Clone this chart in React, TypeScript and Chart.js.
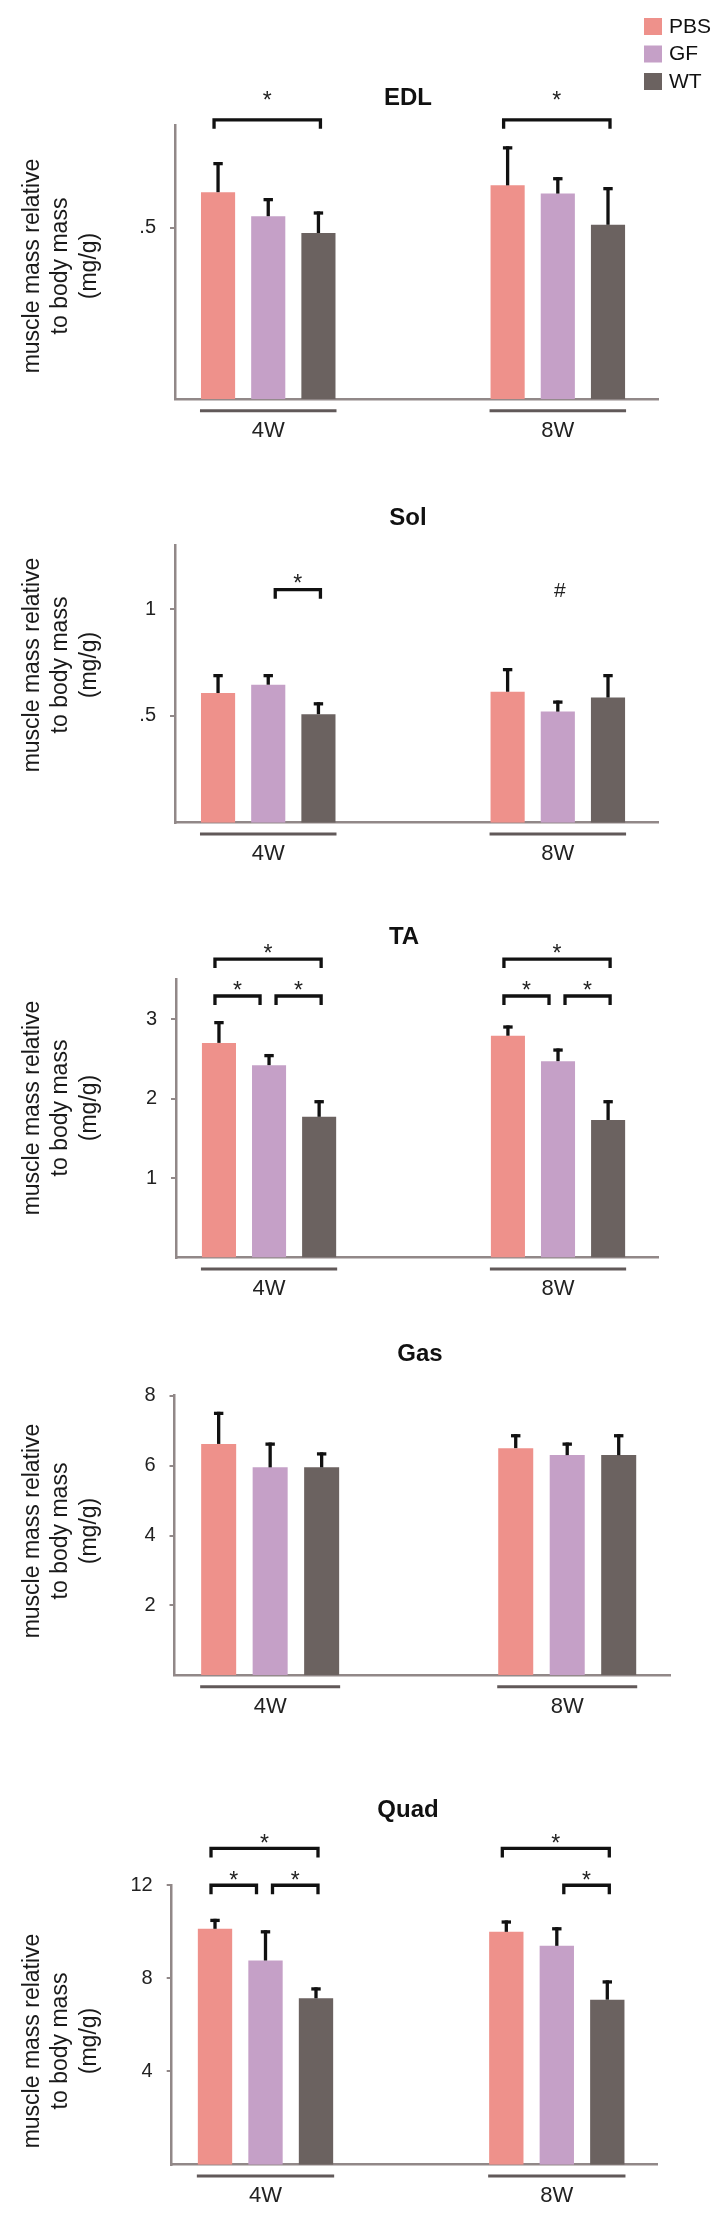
import React, { useEffect, useRef } from "react";
import { Chart, registerables } from "chart.js";
Chart.register(...registerables);

// ---------- data ----------
const groupLabels = ["4W", "8W"];
const groupPositions = [0, 1];
const seriesLabels = ["PBS", "GF", "WT"];
const seriesColors = ["#ee918b", "#c5a0c7", "#6b6260"];

// EDL
const edlPBS = [0.604, 0.624];
const edlPBSErr = [0.088, 0.114];
const edlGF = [0.534, 0.6];
const edlGFErr = [0.053, 0.048];
const edlWT = [0.485, 0.509];
const edlWTErr = [0.063, 0.11];
const edlTicks = [0.5];
const edlTickLabels = [".5"];

// Sol
const solPBS = [0.607, 0.613];
const solPBSErr = [0.089, 0.111];
const solGF = [0.646, 0.52];
const solGFErr = [0.05, 0.052];
const solWT = [0.508, 0.586];
const solWTErr = [0.056, 0.11];
const solTicks = [0.5, 1];
const solTickLabels = [".5", "1"];

// TA
const taPBS = [2.7, 2.79];
const taPBSErr = [0.275, 0.13];
const taGF = [2.42, 2.47];
const taGFErr = [0.14, 0.16];
const taWT = [1.77, 1.73];
const taWTErr = [0.21, 0.25];
const taTicks = [1, 2, 3];
const taTickLabels = ["1", "2", "3"];

// Gas
const gasPBS = [6.62, 6.5];
const gasPBSErr = [0.92, 0.4];
const gasGF = [5.95, 6.3];
const gasGFErr = [0.71, 0.36];
const gasWT = [5.95, 6.3];
const gasWTErr = [0.43, 0.6];
const gasTicks = [2, 4, 6, 8];
const gasTickLabels = ["2", "4", "6", "8"];

// Quad
const quadPBS = [10.12, 9.99];
const quadPBSErr = [0.43, 0.49];
const quadGF = [8.76, 9.39];
const quadGFErr = [1.3, 0.8];
const quadWT = [7.14, 7.08];
const quadWTErr = [0.47, 0.83];
const quadTicks = [4, 8, 12];
const quadTickLabels = ["4", "8", "12"];

// significance annotations (group index, series from/to, level in data units)
const edlBrackets = [
  { group: 0, from: 0, to: 2, level: 0.815, text: "*" },
  { group: 1, from: 0, to: 2, level: 0.815, text: "*" },
];
const solBrackets = [{ group: 0, from: 1, to: 2, level: 1.091, text: "*" }];
const solMarks = [{ group: 1, level: 1.083, text: "#" }];
const taBrackets = [
  { group: 0, from: 0, to: 2, level: 3.754, text: "*" },
  { group: 0, from: 0, to: 1, level: 3.29, text: "*" },
  { group: 0, from: 1, to: 2, level: 3.29, text: "*" },
  { group: 1, from: 0, to: 2, level: 3.754, text: "*" },
  { group: 1, from: 0, to: 1, level: 3.29, text: "*" },
  { group: 1, from: 1, to: 2, level: 3.29, text: "*" },
];
const quadBrackets = [
  { group: 0, from: 0, to: 2, level: 13.57, text: "*" },
  { group: 0, from: 0, to: 1, level: 11.99, text: "*" },
  { group: 0, from: 1, to: 2, level: 11.99, text: "*" },
  { group: 1, from: 0, to: 2, level: 13.57, text: "*" },
  { group: 1, from: 1, to: 2, level: 11.99, text: "*" },
];

const yTitleLines = ["muscle mass relative", "to body mass", "(mg/g)"];

// ---------- layout ----------
const FONT = '"Liberation Sans", Arial, sans-serif';
const AXIS_COLOR = "#918888";
const UNDERLINE_COLOR = "#615959";

const panels = [
  {
    name: "EDL", top: 0, height: 440,
    means: [edlPBS, edlGF, edlWT], errs: [edlPBSErr, edlGFErr, edlWTErr],
    yMax: 0.8, ticks: edlTicks, tickLabels: edlTickLabels,
    brackets: edlBrackets, marks: [] as any[], legend: true,
    box: { left: 175, top: 125, bottom: 399.3, right: 658 },
    titlePos: [408, 98], yTitleY: 266, starGap: 25,
  },
  {
    name: "Sol", top: 440, height: 440,
    means: [solPBS, solGF, solWT], errs: [solPBSErr, solGFErr, solWTErr],
    yMax: 1.3, ticks: solTicks, tickLabels: solTickLabels,
    brackets: solBrackets, marks: solMarks, legend: false,
    box: { left: 175, top: 105, bottom: 382.7, right: 658 },
    titlePos: [408, 78], yTitleY: 225, starGap: 12,
  },
  {
    name: "TA", top: 880, height: 440,
    means: [taPBS, taGF, taWT], errs: [taPBSErr, taGFErr, taWTErr],
    yMax: 3.5, ticks: taTicks, tickLabels: taTickLabels,
    brackets: taBrackets, marks: [] as any[], legend: false,
    box: { left: 176, top: 99.3, bottom: 377.5, right: 658 },
    titlePos: [404, 57.5], yTitleY: 228, starGap: 11,
  },
  {
    name: "Gas", top: 1320, height: 440,
    means: [gasPBS, gasGF, gasWT], errs: [gasPBSErr, gasGFErr, gasWTErr],
    yMax: 8, ticks: gasTicks, tickLabels: gasTickLabels,
    brackets: [] as any[], marks: [] as any[], legend: false,
    box: { left: 174.5, top: 75.7, bottom: 355.3, right: 670 },
    titlePos: [420, 34.3], yTitleY: 211, starGap: 11,
  },
  {
    name: "Quad", top: 1760, height: 463,
    means: [quadPBS, quadGF, quadWT], errs: [quadPBSErr, quadGFErr, quadWTErr],
    yMax: 12, ticks: quadTicks, tickLabels: quadTickLabels,
    brackets: quadBrackets, marks: [] as any[], legend: false,
    box: { left: 171.7, top: 125, bottom: 404.7, right: 657.6 },
    titlePos: [408, 50], yTitleY: 281, starGap: 10.5,
  },
];

function makePlugin(panel: any) {
  return {
    id: "annot_" + panel.name,
    afterDraw(chart: any) {
      const ctx = chart.ctx as CanvasRenderingContext2D;
      const yScale = chart.scales.y;
      const metas = seriesLabels.map((_, i) => chart.getDatasetMeta(i));
      ctx.save();

      // error bars
      ctx.strokeStyle = "#111";
      ctx.lineWidth = 3.3;
      ctx.lineCap = "butt";
      metas.forEach((meta: any, di: number) => {
        meta.data.forEach((el: any, j: number) => {
          const yTop = yScale.getPixelForValue(panel.means[di][j] + panel.errs[di][j]);
          ctx.beginPath();
          ctx.moveTo(el.x, el.y);
          ctx.lineTo(el.x, yTop);
          ctx.stroke();
          ctx.beginPath();
          ctx.moveTo(el.x - 4.7, yTop + 1.6);
          ctx.lineTo(el.x + 4.7, yTop + 1.6);
          ctx.stroke();
        });
      });

      // group underlines
      ctx.strokeStyle = UNDERLINE_COLOR;
      ctx.lineWidth = 3;
      groupLabels.forEach((_, g) => {
        const first = metas[0].data[g];
        const last = metas[2].data[g];
        const yU = chart.chartArea.bottom + 11.4;
        ctx.beginPath();
        ctx.moveTo(first.x - first.width / 2 - 1, yU);
        ctx.lineTo(last.x + last.width / 2 + 1, yU);
        ctx.stroke();
      });

      // brackets
      ctx.strokeStyle = "#111";
      ctx.fillStyle = "#222";
      ctx.lineWidth = 3.3;
      ctx.lineJoin = "miter";
      panel.brackets.forEach((b: any) => {
        const c1 = metas[b.from].data[b.group].x;
        const c2 = metas[b.to].data[b.group].x;
        const x1 = c1 - 4 + (b.from === 1 ? 11 : 0);
        const x2 = c2 + 2 - (b.to === 1 ? 11 : 0);
        const yb = yScale.getPixelForValue(b.level);
        ctx.beginPath();
        ctx.moveTo(x1, yb + 9);
        ctx.lineTo(x1, yb);
        ctx.lineTo(x2, yb);
        ctx.lineTo(x2, yb + 9);
        ctx.stroke();
        ctx.font = `23px ${FONT}`;
        ctx.textAlign = "center";
        ctx.textBaseline = "alphabetic";
        ctx.fillText(b.text, (x1 + x2) / 2, yb - panel.starGap + 23 * 0.58);
      });
      panel.marks.forEach((m: any) => {
        const cx = metas[1].data[m.group].x;
        ctx.font = `21px ${FONT}`;
        ctx.textAlign = "center";
        ctx.textBaseline = "middle";
        ctx.fillText(m.text, cx + 2, yScale.getPixelForValue(m.level));
      });

      // panel title
      ctx.fillStyle = "#111";
      ctx.font = `bold 24px ${FONT}`;
      ctx.textAlign = "center";
      ctx.textBaseline = "middle";
      ctx.fillText(panel.name, panel.titlePos[0], panel.titlePos[1]);

      // y-axis title
      ctx.fillStyle = "#1a1a1a";
      ctx.font = `23px ${FONT}`;
      ctx.textAlign = "center";
      ctx.textBaseline = "alphabetic";
      yTitleLines.forEach((line, i) => {
        ctx.save();
        ctx.translate(38.5 + i * 28.5, panel.yTitleY);
        ctx.rotate(-Math.PI / 2);
        ctx.fillText(line, 0, 0);
        ctx.restore();
      });

      // legend
      if (panel.legend) {
        seriesLabels.forEach((label, i) => {
          const yy = 18 + i * 27.5;
          ctx.fillStyle = seriesColors[i];
          ctx.fillRect(644, yy, 18, 17);
          ctx.fillStyle = "#111";
          ctx.font = `21px ${FONT}`;
          ctx.textAlign = "left";
          ctx.textBaseline = "middle";
          ctx.fillText(label, 669, yy + 9);
        });
      }
      ctx.restore();
    },
  };
}

function Panel({ panel }: { panel: any }) {
  const ref = useRef<HTMLCanvasElement>(null);
  useEffect(() => {
    const canvas = ref.current!;
    const box = panel.box;
    const chart = new Chart(canvas, {
      type: "bar",
      data: {
        datasets: seriesLabels.map((label, di) => ({
          label,
          data: groupPositions.map((gx, j) => ({ x: gx, y: panel.means[di][j] })),
          backgroundColor: seriesColors[di],
          borderWidth: 0,
          categoryPercentage: 0.52,
          barPercentage: 0.68,
        })),
      },
      options: {
        animation: false,
        responsive: false,
        devicePixelRatio: 1,
        layout: { padding: { top: box.top, left: 0, right: 722 - box.right, bottom: 0 } },
        plugins: { legend: { display: false }, tooltip: { enabled: false }, title: { display: false } },
        scales: {
          x: {
            type: "linear",
            bounds: "data",
            offset: false,
            min: -0.322,
            max: 1.346,
            grid: { display: false, offset: false },
            border: { display: true, color: AXIS_COLOR, width: 2.5 },
            afterBuildTicks: (s: any) => {
              s.ticks = groupPositions.map((v) => ({ value: v }));
            },
            afterFit: (s: any) => {
              s.height = panel.height - box.bottom;
            },
            ticks: {
              autoSkip: false,
              maxRotation: 0,
              padding: 10,
              color: "#222",
              font: { family: FONT, size: 22 },
              callback: (_v: any, i: number) => groupLabels[i],
            },
          },
          y: {
            type: "linear",
            bounds: "data",
            min: 0,
            max: panel.yMax,
            grid: { drawOnChartArea: false, drawTicks: true, tickLength: 5, color: AXIS_COLOR, lineWidth: 2 },
            border: { display: true, color: AXIS_COLOR, width: 2.5 },
            afterBuildTicks: (s: any) => {
              s.ticks = panel.ticks.map((v: number) => ({ value: v }));
            },
            afterFit: (s: any) => {
              s.width = box.left;
            },
            ticks: {
              autoSkip: false,
              padding: 14,
              color: "#222",
              font: { family: FONT, size: 20 },
              callback: (_v: any, i: number) => panel.tickLabels[i],
            },
          },
        },
      } as any,
      plugins: [makePlugin(panel)],
    });
    return () => chart.destroy();
  }, [panel]);
  return (
    <canvas
      ref={ref}
      width={722}
      height={panel.height}
      style={{ position: "absolute", left: 0, top: panel.top, width: 722, height: panel.height }}
    />
  );
}

export default function App() {
  return (
    <div style={{ position: "relative", width: 722, height: 2223, background: "#fff", overflow: "hidden" }}>
      <style>{`body{margin:0;}`}</style>
      {panels.map((p) => (
        <Panel key={p.name} panel={p} />
      ))}
    </div>
  );
}
